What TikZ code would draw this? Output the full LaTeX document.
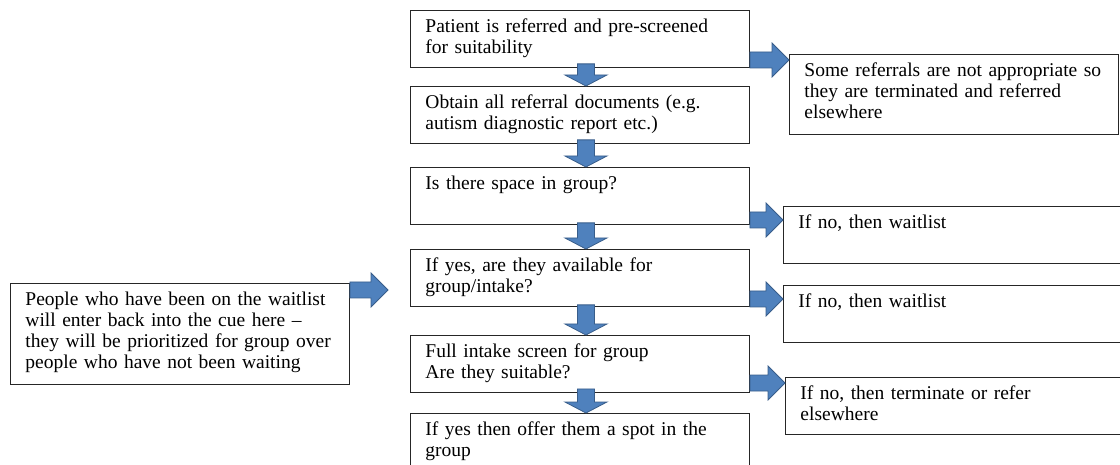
\documentclass[tikz,border=0pt]{standalone}
\usepackage{fontspec}
\setmainfont{Liberation Serif}
\usetikzlibrary{calc}

\definecolor{arrowblue}{HTML}{4F81BD}
\definecolor{arrowline}{HTML}{385D8A}

\newcommand{\dnarrow}[2]{
  \path [blockarrow] let \p1=(#1), \p2=(#2) in
    (\x1-8.5pt,\y1) -- (\x1+8.5pt,\y1) -- (\x1+8.5pt,\y2+11pt) -- (\x1+21pt,\y2+11pt)
    -- (\x1,\y2) -- (\x1-21pt,\y2+11pt) -- (\x1-8.5pt,\y2+11pt) -- cycle;
}

\newcommand{\rtarrow}[2]{
  \path [blockarrow] let \p1=(#1), \p2=(#2) in
    (\x1,\y1+8pt) -- (\x2-17pt,\y1+8pt) -- (\x2-17pt,\y1+17pt) -- (\x2,\y1)
    -- (\x2-17pt,\y1-17pt) -- (\x2-17pt,\y1-8pt) -- (\x1,\y1-8pt) -- cycle;
}

\begin{document}
\begin{tikzpicture}[x=1pt,y=-1pt,
    box/.style={draw=black!85,line width=0.9pt,anchor=north west,inner xsep=15pt,
      inner ysep=0pt,text width=#1,align=left,text height=22.5pt,
      font=\fontsize{19.5pt}{21pt}\selectfont},
    box/.default=309pt,
    blockarrow/.style={fill=arrowblue,draw=arrowline,line width=0.8pt,line join=miter}]
  \useasboundingbox (0,0) rectangle (1120,465);
  \clip (0,0) rectangle (1120,465);

  % main steps
  \node [box,text depth=34.5pt] (s1) at (410,10) {Patient is referred and pre-screened\\for suitability};
  \node [box,text depth=34.5pt] (s2) at (410,86) {Obtain all referral documents (e.g.\\autism diagnostic report etc.)};
  \node [box,text depth=34.5pt] (s3) at (410,167) {Is there space in group?};
  \node [box,text depth=34.5pt] (s4) at (410,249) {If yes, are they available for\\group/intake?};
  \node [box,text depth=34.5pt] (s5) at (410,335) {Full intake screen for group\\Are they suitable?};
  \node [box,text depth=60pt] (s6) at (410,413) {If yes then offer them a spot in the\\group};

  % side boxes
  \node [box=299pt,text depth=57.5pt] (n1) at (789,54) {Some referrals are not appropriate so\\they are terminated and referred\\elsewhere};
  \node [box=320pt,text depth=34.5pt] (n2) at (783,206) {If no, then waitlist};
  \node [box=320pt,text depth=34.5pt] (n3) at (783,285) {If no, then waitlist};
  \node [box=320pt,text depth=34.5pt] (n4) at (785,377) {If no, then terminate or refer\\elsewhere};
  \node [box,text depth=78.5pt] (back) at (10,283) {People who have been on the waitlist\\will enter back into the cue here --\\they will be prioritized for group over\\people who have not been waiting};

  \coordinate (entry) at (388,290);

  \dnarrow{$(s1.south)+(6,-4)$}{s2.north}
  \dnarrow{$(s2.south)+(6,-4)$}{s3.north}
  \dnarrow{$(s3.south)+(6,-2)$}{s4.north}
  \dnarrow{$(s4.south)+(6,-2)$}{s5.north}
  \dnarrow{$(s5.south)+(6,-4)$}{s6.north}

  \rtarrow{$(s1.north east)+(0,50)$}{n1.west}
  \rtarrow{$(s3.north east)+(0,53)$}{n2.west}
  \rtarrow{$(s4.north east)+(0,50)$}{n3.west}
  \rtarrow{$(s5.north east)+(0,48)$}{n4.west}
  \rtarrow{$(back.north east)+(0,7)$}{entry}
\end{tikzpicture}
\end{document}
